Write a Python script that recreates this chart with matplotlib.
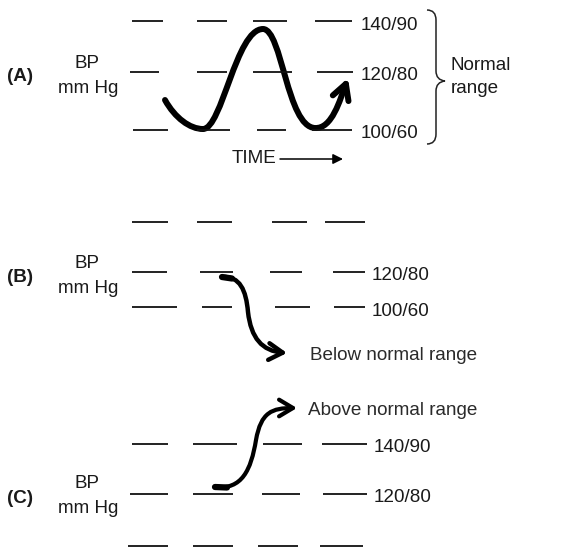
import matplotlib
matplotlib.use("Agg")
import matplotlib.pyplot as plt
from matplotlib.path import Path
from matplotlib.patches import FancyArrowPatch, PathPatch, ArrowStyle

plt.rcParams['font.family'] = ['Liberation Sans', 'DejaVu Sans']

# ---- content ----
panel_labels = ["(A)", "(B)", "(C)"]
axis_label = "BP\nmm Hg"
levels_A = ["140/90", "120/80", "100/60"]
levels_B = ["", "120/80", "100/60"]
levels_C = ["140/90", "120/80", ""]
brace_text = "Normal\nrange"
time_text = "TIME"
below_text = "Below normal range"
above_text = "Above normal range"

# row baselines (pixel y) and dash extents per panel
rows_A_y = [21, 72, 130]
rows_B_y = [222, 272, 307]
rows_C_y = [444, 494, 546]
dashes_A = [[(132, 163), (197, 227), (253, 287), (315, 352)],
            [(130, 159), (197, 227), (253, 292), (317, 353)],
            [(133, 168), (197, 230), (257, 286), (312, 352)]]
dashes_B = [[(132, 168), (197, 232), (272, 307), (325, 365)],
            [(132, 167), (200, 233), (270, 302), (333, 365)],
            [(132, 177), (202, 232), (275, 310), (334, 365)]]
dashes_C = [[(132, 168), (193, 237), (263, 302), (322, 367)],
            [(130, 168), (193, 233), (262, 300), (323, 367)],
            [(128, 168), (193, 233), (258, 298), (320, 363)]]

# curve waypoints (cubic bezier: start, then triples c1, c2, end)
curve_A = [(165, 100),
           (175, 118), (190, 129), (203, 129),
           (222, 129), (236, 29), (263, 29),
           (282, 29), (287, 127), (315, 128),
           (332, 129), (340, 100), (348, 78)]
curve_B = [(222, 277),
           (240, 276), (246, 290), (248, 312),
           (251, 338), (262, 351), (287, 353)]
curve_C = [(215, 487),
           (242, 490), (251, 470), (256, 440),
           (261, 412), (272, 408), (297, 408)]

TXT = "#1a1a1a"
FS = 13.6

fig = plt.figure(figsize=(5.68, 5.48), dpi=100)
ax = fig.add_axes([0, 0, 1, 1])
ax.set_xlim(0, 568)
ax.set_ylim(548, 0)
ax.axis("off")


def draw_rows(rows_y, dashes, labels, label_x):
    for y, segs, lab in zip(rows_y, dashes, labels):
        for x0, x1 in segs:
            ax.plot([x0, x1], [y, y], color="#111111", lw=1.3, solid_capstyle="butt")
        if lab:
            ax.text(label_x, y + 8.5, lab, fontsize=FS, color=TXT, ha="left", va="baseline")


draw_rows(rows_A_y, dashes_A, levels_A, 361)
draw_rows(rows_B_y, dashes_B, levels_B, 372)
draw_rows(rows_C_y, dashes_C, levels_C, 374)

# panel labels and axis labels
for lab, (py, by, my) in zip(panel_labels, [(81, 68, 93), (282, 268, 293), (503, 488, 513)]):
    ax.text(7, py, lab, fontsize=FS, fontweight="bold", color=TXT, ha="left", va="baseline")
    ax.text(87, by, axis_label.split("\n")[0], fontsize=FS, color=TXT, ha="center", va="baseline")
    ax.text(88, my, axis_label.split("\n")[1], fontsize=FS, color=TXT, ha="center", va="baseline")


def curve(points, lw, hl, hw):
    codes = [Path.MOVETO] + [Path.CURVE4] * (len(points) - 1)
    p = Path(points, codes)
    arr = FancyArrowPatch(path=p, arrowstyle=ArrowStyle("->", head_length=hl, head_width=hw),
                          lw=lw, color="black", shrinkA=0, shrinkB=0,
                          capstyle="round", joinstyle="round")
    ax.add_patch(arr)


curve(curve_A, 4.3, 11, 6)
curve(curve_B, 3.2, 10, 6)
curve(curve_C, 3.0, 10, 6)

# start blobs
ax.plot([curve_B[0][0], curve_B[0][0] + 10], [curve_B[0][1], curve_B[0][1] + 1.5], color="black", lw=4.5, solid_capstyle="round")
ax.plot([curve_C[0][0], curve_C[0][0] + 12], [curve_C[0][1], curve_C[0][1] + 0.5], color="black", lw=4.5, solid_capstyle="round")

# TIME arrow
ax.text(232, 163, time_text, fontsize=FS, color=TXT, ha="left", va="baseline")
ax.annotate("", xy=(343, 159), xytext=(280, 159),
            arrowprops=dict(arrowstyle="-|>", lw=1.1, color="black", mutation_scale=15,
                            shrinkA=0, shrinkB=0))

# brace
bv = [(427, 10), (436, 10), (436, 20), (436, 71), (436, 80), (445, 81),
      (436, 82), (436, 91), (436, 134), (436, 144), (427, 144)]
bc = [Path.MOVETO, Path.CURVE3, Path.CURVE3, Path.LINETO, Path.CURVE3, Path.CURVE3,
      Path.CURVE3, Path.CURVE3, Path.LINETO, Path.CURVE3, Path.CURVE3]
ax.add_patch(PathPatch(Path(bv, bc), fill=False, lw=1.1, edgecolor="#222222"))
ax.text(451, 70, brace_text.split("\n")[0], fontsize=FS, color=TXT, ha="left", va="baseline")
ax.text(451, 93, brace_text.split("\n")[1], fontsize=FS, color=TXT, ha="left", va="baseline")

ax.text(310, 360, below_text, fontsize=FS, color="#2a2a2a", ha="left", va="baseline")
ax.text(308, 415, above_text, fontsize=FS, color="#2a2a2a", ha="left", va="baseline")

fig.savefig("out.png", dpi=100)
